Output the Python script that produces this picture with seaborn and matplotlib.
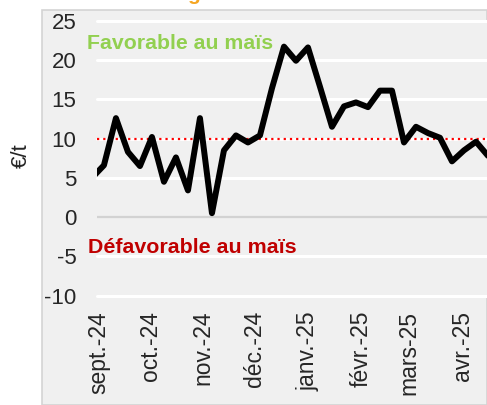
import matplotlib
matplotlib.use("Agg")
import matplotlib.pyplot as plt
import matplotlib.dates as mdates
from matplotlib.patches import Rectangle
import numpy as np
import pandas as pd
import seaborn as sns

# ---- data -------------------------------------------------------------
dates = pd.date_range("2024-08-28", periods=34, freq="7D")
values = [5.0, 6.6, 12.6, 8.3, 6.5, 10.2, 4.5, 7.6, 3.4, 12.6, 0.5, 8.5,
          10.4, 9.5, 10.4, 16.4, 21.7, 19.9, 21.6, 16.6, 11.5, 14.1, 14.6,
          14.0, 16.1, 16.1, 9.5, 11.5, 10.7, 10.1, 7.1, 8.5, 9.6, 7.8]
threshold = 10
month_ticks = pd.to_datetime(["2024-09-01", "2024-10-01", "2024-11-01",
                              "2024-12-01", "2025-01-01", "2025-02-01",
                              "2025-03-01", "2025-04-01"])
month_labels = ["sept.-24", "oct.-24", "nov.-24", "déc.-24", "janv.-25",
                "févr.-25", "mars-25", "avr.-25"]
y_ticks = [-10, -5, 0, 5, 10, 15, 20, 25]
ylabel = "€/t"
label_fav = "Favorable au maïs"
label_defav = "Défavorable au maïs"

df = pd.DataFrame({"date": dates, "value": values})

# ---- style ------------------------------------------------------------
sns.set_style("white")
plt.rcParams["font.family"] = ["Liberation Sans", "DejaVu Sans"]

W, H = 487, 405
fig = plt.figure(figsize=(W / 100, H / 100), dpi=100)
fig.patch.set_facecolor("white")

panel_col = "#f0f0f0"
fig.patches.append(Rectangle((42 / W, 0), 1 - 42 / W, 1 - 10 / H,
                             transform=fig.transFigure, facecolor=panel_col,
                             edgecolor="#d4d4d4", linewidth=1.2, zorder=-5))

left, right = 97.3, 487
top, bottom = 20.7, 295.7
ax = fig.add_axes([left / W, 1 - bottom / H, (right - left) / W, (bottom - top) / H])
ax.set_zorder(1)
ax.set_facecolor(panel_col)
for s in ax.spines.values():
    s.set_visible(False)

# gridlines
for yv in y_ticks:
    if yv == 0:
        continue
    ax.axhline(yv, color="white", lw=2.2, zorder=1, clip_on=False)
ax.axhline(0, color="#d2d2d2", lw=1.6, zorder=1)

ax.axhline(threshold, color="#ff0000", lw=1.6, ls=(0, (1, 1.8)), zorder=2)

sns.lineplot(data=df, x="date", y="value", ax=ax, color="black", lw=4.3,
             zorder=3, solid_joinstyle="round", solid_capstyle="round")

ax.set_ylim(-10, 25)
ax.set_xlim(pd.Timestamp("2024-08-31 03:00"), pd.Timestamp("2025-04-15 10:00"))
ax.set_yticks(y_ticks)
ax.set_yticklabels([str(v) for v in y_ticks], fontsize=16)
ax.set_xticks(month_ticks)
ax.set_xticklabels(month_labels, rotation=90, fontsize=16.5, ha="center", va="top")
ax.tick_params(axis="y", length=0, pad=15)
ax.tick_params(axis="x", length=0, pad=11)
ax.set_xlabel("")
ax.set_ylabel("")

fig.text(21 / W, 1 - 156 / H, ylabel, rotation=90, fontsize=16,
         ha="center", va="center")
fig.text(87 / W, 1 - 49 / H, label_fav, color="#92d050", fontsize=15.3,
         fontweight="bold", ha="left", va="baseline", zorder=5)
fig.text(88 / W, 1 - 253 / H, label_defav, color="#c00000", fontsize=15.4,
         fontweight="bold", ha="left", va="baseline", zorder=5)
# cut-off title descender at the very top
fig.text(194 / W, 1.0, "g", color="#f5a623", fontsize=15, fontweight="bold",
         ha="center", va="baseline")

fig.savefig("out.png", dpi=100)
